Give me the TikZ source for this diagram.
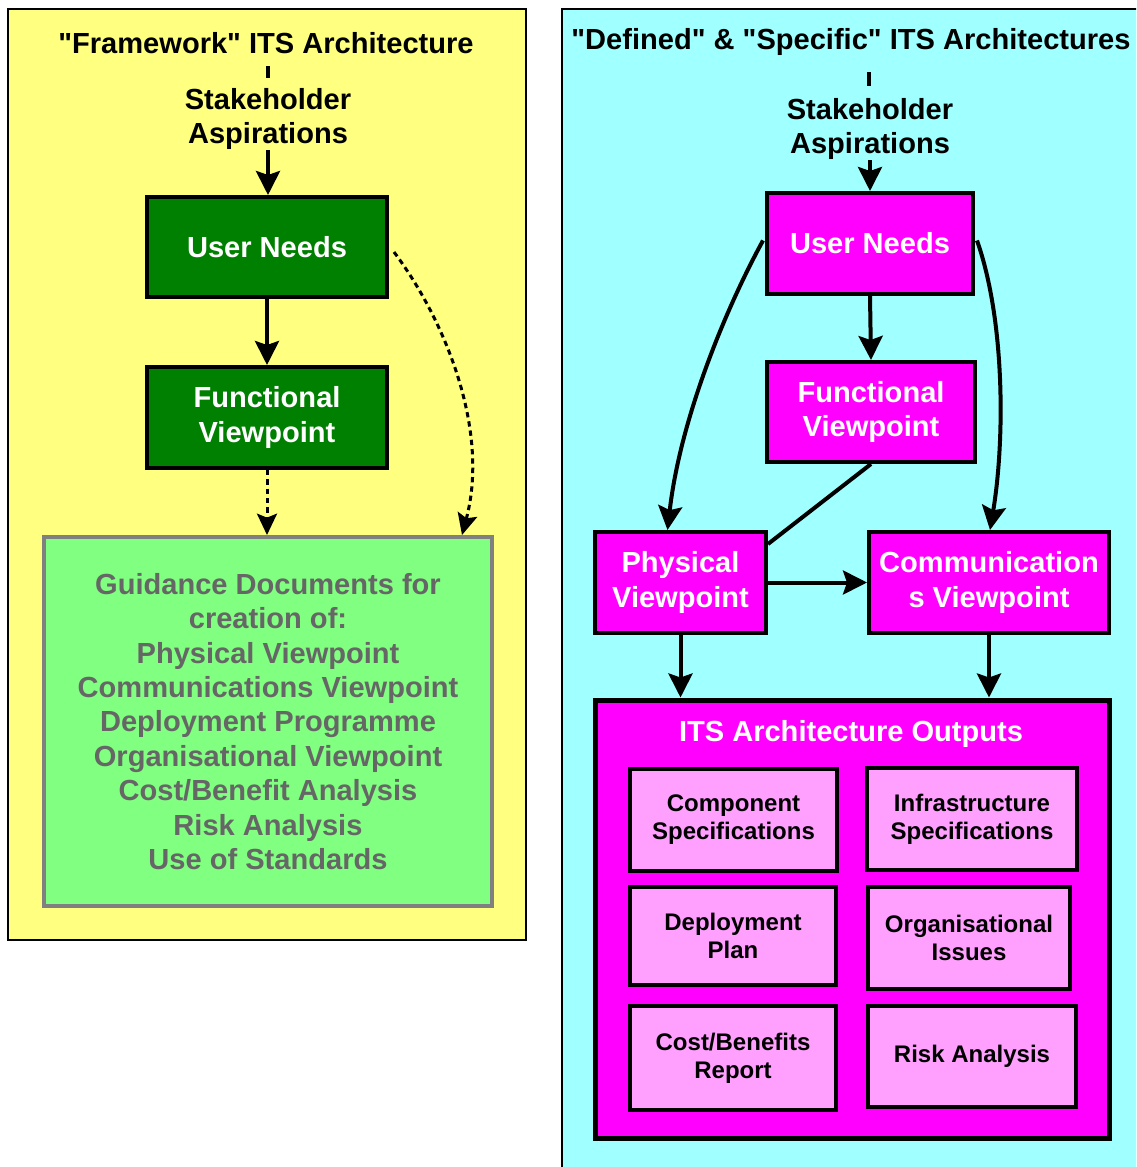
\documentclass[tikz,border=0pt]{standalone}
\usepackage{fontspec}
\setmainfont{Liberation Sans}
\usetikzlibrary{arrows.meta,calc}
\definecolor{yel}{HTML}{FFFF80}
\definecolor{cya}{HTML}{A0FFFF}
\definecolor{dgreen}{HTML}{008000}
\definecolor{lgreen}{HTML}{80FF80}
\definecolor{mag}{HTML}{FF00FF}
\definecolor{mypink}{HTML}{FFA0FF}
\definecolor{gtext}{HTML}{666666}
\definecolor{gborder}{HTML}{808080}
\newcommand{\qq}{\textquotedbl{}}
\begin{document}
\begin{tikzpicture}[x=0.75pt,y=-0.75pt,
 bigtxt/.style={font=\fontsize{21.8}{25.8}\selectfont\bfseries, align=center, inner sep=0pt},
 smalltxt/.style={font=\fontsize{18}{21}\selectfont\bfseries, align=center, inner sep=0pt},
 gbox/.style={draw=black, line width=3pt, fill=dgreen, text=white, bigtxt},
 mbox/.style={draw=black, line width=3pt, fill=mag, text=white, bigtxt},
 pbox/.style={draw=black, line width=3pt, fill=mypink, text=black, smalltxt},
 arr/.style={line width=3pt, -{Stealth[length=18pt,width=18pt,inset=3pt]}},
 darr/.style={line width=2.25pt, dash pattern=on 4pt off 3pt, -{Stealth[length=16pt,width=15pt,inset=3pt]}},
]
\clip (0,0) rectangle (1136,1167);
\fill[white] (0,0) rectangle (1136,1167);
% panels
\filldraw[fill=yel, draw=black, line width=1.5pt] (8,9) rectangle (526,940);
\filldraw[fill=cya, draw=black, line width=1.5pt] (562,9) rectangle (1150,1180);

% ---------- left panel ----------
\node[bigtxt] (t1) at (266,43) {\qq Framework\qq\ ITS Architecture};
\coordinate (d1a) at (268,66);
\coordinate (d1b) at (268,78);
\draw[line width=3pt] (d1a) -- (d1b);
\node[bigtxt] (sa1) at (268,119) {Stakeholder\\Aspirations};
\node[gbox, minimum width=180pt, minimum height=75pt] (un1) at (267,247) {User Needs};
\node[gbox, minimum width=180pt, minimum height=75.75pt] (fv1) at (267,417.5) {Functional\\Viewpoint};
\node[draw=gborder, line width=3pt, fill=lgreen, text=gtext, bigtxt,
      minimum width=336pt, minimum height=276.75pt] (gd) at (268,721.5)
 {Guidance Documents for\\creation of:\\Physical Viewpoint\\Communications Viewpoint\\Deployment Programme\\Organisational Viewpoint\\Cost/Benefit Analysis\\Risk Analysis\\Use of Standards};

\draw[arr] (sa1.south) -- (sa1.south |- un1.north);
\draw[arr] (un1.south) -- (fv1.north);
\draw[darr] (fv1.south) -- (fv1.south |- gd.north);
\draw[darr] ($(un1.east)+(5,5)$) .. controls (445,320) and (490,430) .. ($(gd.north east)+(-32,0)$);

% ---------- right panel ----------
\node[bigtxt] (t2) at (851,42) {\qq Defined\qq\ \& \qq Specific\qq\ ITS Architectures};
\coordinate (d2a) at (869,72);
\coordinate (d2b) at (869,86);
\draw[line width=3pt] (d2a) -- (d2b);
\node[bigtxt] (sa2) at (870,129) {Stakeholder\\Aspirations};
\node[mbox, minimum width=154.5pt, minimum height=75.75pt] (un2) at (870,243.5) {User Needs};
\node[mbox, minimum width=156pt, minimum height=75pt] (fv2) at (871,412) {Functional\\Viewpoint};
\node[mbox, minimum width=128.25pt, minimum height=75.75pt] (pv) at (680.5,582.5) {Physical\\Viewpoint};
\node[mbox, minimum width=180pt, minimum height=75.75pt] (cv) at (989,582.5) {Communication\\s Viewpoint};

\node[draw=black, line width=3.75pt, fill=mag, minimum width=385.5pt, minimum height=328.5pt] (out) at (852,919) {};
\node[bigtxt, text=white] (outt) at (851,734) {ITS Architecture Outputs};
\node[pbox, minimum width=155.25pt, minimum height=76.5pt] (comp) at (733.5,820) {Component\\Specifications};
\node[pbox, minimum width=157.5pt, minimum height=76.5pt] (infra) at (972,819) {Infrastructure\\Specifications};
\node[pbox, minimum width=154.5pt, minimum height=73.5pt] (depl) at (733,936) {Deployment\\Plan};
\node[pbox, minimum width=151.5pt, minimum height=76.5pt] (org) at (969,938) {Organisational\\Issues};
\node[pbox, minimum width=154.5pt, minimum height=78pt] (cost) at (733,1058) {Cost/Benefits\\Report};
\node[pbox, minimum width=156pt, minimum height=75.75pt] (risk) at (972,1056.5) {Risk Analysis};

\draw[arr] (sa2.south) -- (sa2.south |- un2.north);
\draw[arr] (un2.south) -- (fv2.north);
\draw[arr] ($(un2.west)+(-2,-3)$) .. controls (725,310) and (680,420) .. ($(pv.north)+(-13,0)$);
\draw[arr] ($(un2.east)+(2,-3)$) .. controls (1005,320) and (1005,440) .. ($(cv.north)+(1,0)$);
\draw[line width=3pt] (fv2.south) -- ($(pv.north east)+(0,14)$);
\draw[arr] (pv.east) -- (cv.west);
\draw[arr] (pv.south) -- (pv.south |- out.north);
\draw[arr] (cv.south) -- (cv.south |- out.north);
\end{tikzpicture}
\end{document}
